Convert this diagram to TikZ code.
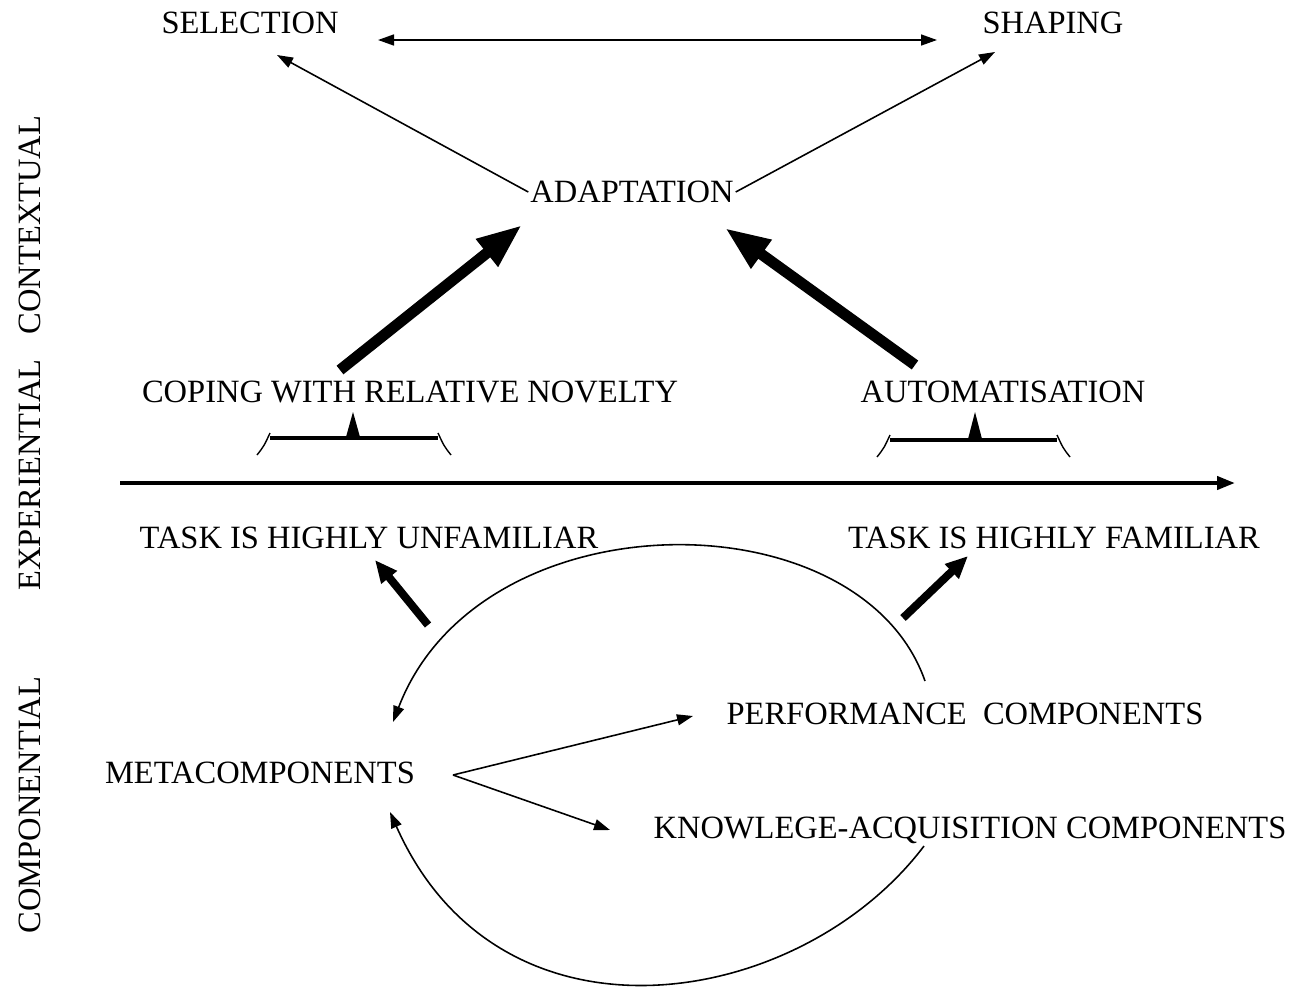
\documentclass[tikz,border=0pt]{standalone}
\usepackage{fontspec}
\setmainfont{Liberation Serif}
\usetikzlibrary{arrows.meta}

\begin{document}
\begin{tikzpicture}[x=0.02cm, y=-0.02cm, font=\fontsize{18.5}{22}\selectfont]
    \tikzstyle{label_style} = [inner sep=1pt, text height=12.4pt, text depth=0pt]
    \tikzstyle{side_style} = [inner sep=1pt, text height=12.4pt, text depth=0pt, rotate=90]
    \tikzstyle{thin_arrow} = [draw=black, line width=0.9pt, -{Triangle[length=0.32cm, width=0.22cm]}]
    \tikzstyle{both_arrow} = [draw=black, line width=0.9pt, {Triangle[length=0.32cm, width=0.22cm]}-{Triangle[length=0.32cm, width=0.22cm]}]
    \tikzstyle{fat_arrow} = [draw=black, line width=0.22cm, -{Triangle[length=0.9cm, width=0.65cm]}]
    \tikzstyle{mid_arrow} = [draw=black, line width=0.16cm, -{Triangle[length=0.45cm, width=0.38cm]}]
    \tikzstyle{axis_style} = [draw=black, line width=2.3pt, -{Triangle[length=0.36cm, width=0.26cm]}]
    \tikzstyle{bar_style} = [draw=black, line width=2.8pt]
    \tikzstyle{hook_style} = [draw=black, line width=0.8pt]
    \useasboundingbox (0,0) rectangle (1290,994);

    \node[label_style] (sel) at (250,23) {SELECTION};
    \node[label_style] (shape) at (1053,23) {SHAPING};
    \node[label_style] (adapt) at (632,192) {ADAPTATION};
    \node[label_style] (novel) at (410,392) {COPING WITH RELATIVE NOVELTY};
    \node[label_style] (auto) at (1003,392) {AUTOMATISATION};
    \node[label_style] (unfam) at (369,538) {TASK IS HIGHLY UNFAMILIAR};
    \node[label_style] (fam) at (1054,538) {TASK IS HIGHLY FAMILIAR};
    \node[label_style] (perf) at (965,714) {PERFORMANCE\ \ COMPONENTS};
    \node[label_style] (meta) at (260,773) {METACOMPONENTS};
    \node[label_style] (know) at (970,828) {KNOWLEGE-ACQUISITION COMPONENTS};

    \node[side_style] (contx) at (30,225) {CONTEXTUAL};
    \node[side_style] (exper) at (30,475) {EXPERIENTIAL};
    \node[side_style] (compo) at (30,805) {COMPONENTIAL};

    \coordinate (sel_in) at (277,55);
    \coordinate (shape_in) at (995,52);
    \coordinate (top_l) at (378,40);
    \coordinate (top_r) at (937,40);
    \coordinate (novel_out) at (340,370);
    \coordinate (adapt_in_l) at (522,225);
    \coordinate (auto_out) at (915,365);
    \coordinate (adapt_in_r) at (725,228);
    \coordinate (unfam_out) at (428,625);
    \coordinate (unfam_in) at (375,560);
    \coordinate (fam_out) at (903,618);
    \coordinate (fam_in) at (968,556);
    \coordinate (axis_l) at (120,483);
    \coordinate (axis_r) at (1235,483);
    \coordinate (fork) at (453,775);
    \coordinate (perf_in) at (693,716);
    \coordinate (know_in) at (610,830);
    \coordinate (perf_out) at (925,681);
    \coordinate (meta_in_t) at (393,722);
    \coordinate (know_out) at (924,846);
    \coordinate (meta_in_b) at (390,812);

    \draw[both_arrow] (top_l) -- (top_r);
    \draw[thin_arrow] (adapt.west) -- (sel_in);
    \draw[thin_arrow] (adapt.east) -- (shape_in);
    \draw[fat_arrow] (novel_out) -- (adapt_in_l);
    \draw[fat_arrow] (auto_out) -- (adapt_in_r);

    % brackets over the axis
    \draw[bar_style] (270,438) -- (438,438);
    \fill (346,437) -- (353,412) -- (360,437) -- cycle;
    \draw[hook_style] (270,433) .. controls (264,446) .. (257,455);
    \draw[hook_style] (438,433) .. controls (444,446) .. (451,455);
    \draw[bar_style] (890,440) -- (1057,440);
    \fill (968,439) -- (975,412) -- (982,439) -- cycle;
    \draw[hook_style] (890,435) .. controls (884,448) .. (877,457);
    \draw[hook_style] (1057,435) .. controls (1063,448) .. (1070,457);

    \draw[axis_style] (axis_l) -- (axis_r);
    \draw[mid_arrow] (unfam_out) -- (unfam_in);
    \draw[mid_arrow] (fam_out) -- (fam_in);

    \draw[thin_arrow] (fork) -- (perf_in);
    \draw[thin_arrow] (fork) -- (know_in);
    \draw[thin_arrow] (perf_out) .. controls (860,495) and (480,495) .. (meta_in_t);
    \draw[thin_arrow] (know_out) .. controls (800,1010) and (500,1060) .. (meta_in_b);
\end{tikzpicture}
\end{document}
